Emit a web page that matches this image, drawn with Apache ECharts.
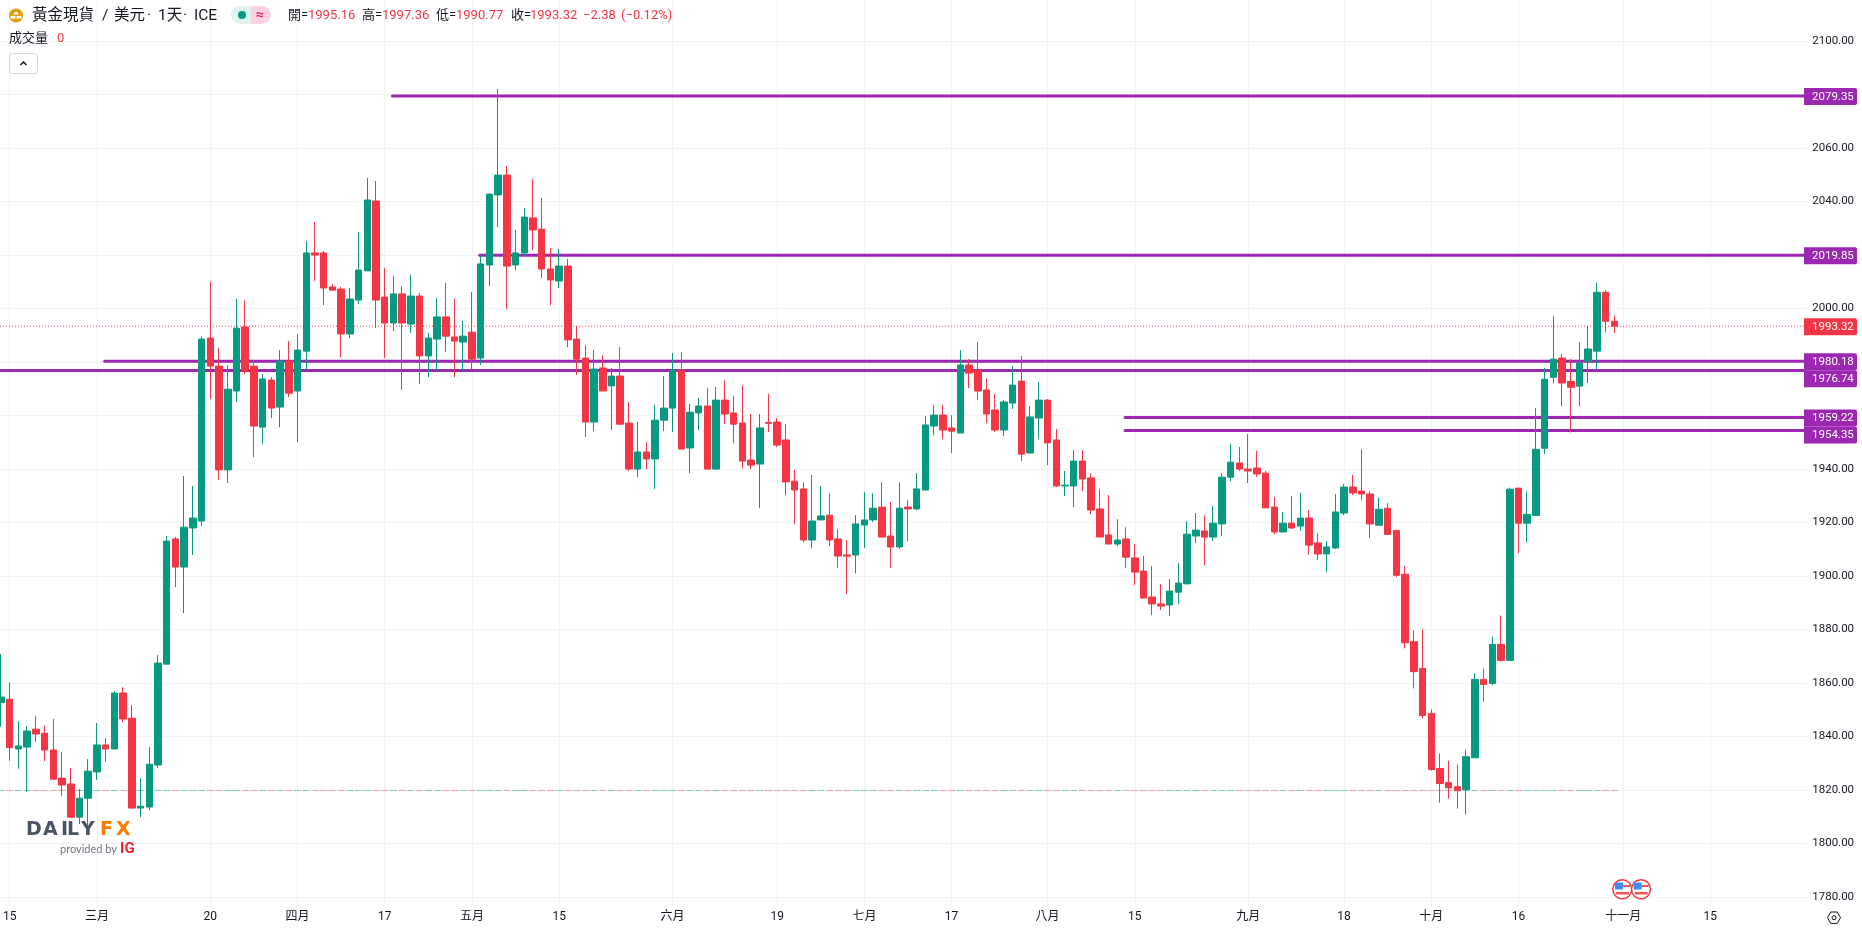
<!DOCTYPE html>
<html>
<head>
<meta charset="UTF-8">
<title>黃金現貨 / 美元</title>
<script src="https://cdn.jsdelivr.net/npm/echarts@6/dist/echarts.min.js"></script>
<style>
    html, body { margin: 0; padding: 0; background: #fff; overflow: hidden; }
    #main { width: 1862px; height: 929px; }
</style>
</head>
<body>
<div id="main"></div>
<script type="text/javascript">
// daily candles
var opens = [1852.6,1853.9,1835.3,1836.0,1842.7,1841.2,1834.9,1824.4,1822.2,1809.8,
    1816.9,1826.7,1836.8,1835.3,1856.2,1846.8,1813.2,1813.6,1829.3,1867.0,
    1913.8,1903.3,1917.9,1920.5,1988.9,1978.4,1939.6,1969.1,1993.0,1978.4,
    1955.6,1973.2,1963.1,1980.3,1969.1,1984.0,2020.7,2020.7,2008.0,2007.2,
    1990.4,2003.1,2014.0,2040.1,2004.2,1994.5,2005.4,1994.1,2004.6,1982.2,
    1988.5,1996.8,1989.3,1987.4,1991.1,1981.4,2016.2,2042.4,2049.8,2016.2,
    2020.7,2033.8,2029.6,2014.7,2010.2,2015.8,1988.5,1981.4,1957.5,1977.7,
    1971.0,1974.7,1957.1,1939.9,1946.3,1943.7,1958.2,1962.7,1976.9,1947.8,
    1960.9,1963.5,1939.9,1965.7,1960.9,1957.1,1943.3,1941.8,1957.4,1957.5,
    1950.8,1935.4,1932.5,1913.4,1920.9,1922.7,1913.8,1907.8,1907.8,1919.0,
    1920.9,1925.7,1914.9,1910.8,1925.7,1925.0,1932.1,1956.0,1960.1,1955.3,
    1953.4,1978.8,1976.9,1969.5,1962.0,1954.5,1964.6,1972.8,1945.9,1959.0,
    1965.7,1950.8,1933.6,1933.6,1942.9,1936.6,1925.0,1915.3,1911.9,1913.8,
    1906.7,1901.8,1892.1,1889.5,1889.1,1893.9,1897.0,1914.9,1916.8,1914.5,
    1919.4,1936.9,1942.2,1939.9,1940.3,1938.4,1925.7,1916.4,1919.7,1918.6,
    1921.6,1912.3,1908.2,1910.4,1923.5,1933.2,1931.7,1930.6,1918.9,1925.3,
    1917.0,1900.6,1875.4,1865.4,1848.6,1828.0,1822.7,1821.2,1820.1,1832.0,
    1861.3,1859.8,1874.4,1868.4,1932.8,1919.7,1922.6,1947.7,1974.2,1981.4,
    1972.7,1970.9,1980.1,1984.0,2006.0,1995.16];
var closes = [1854.7,1835.8,1836.4,1842.0,1840.9,1834.9,1824.0,1821.8,1809.8,1816.9,
    1827.0,1836.8,1835.3,1856.2,1846.5,1813.2,1813.9,1829.6,1867.4,1913.0,
    1903.3,1918.2,1921.6,1988.5,1978.4,1939.6,1969.8,1992.6,1976.6,1956.0,
    1973.6,1962.7,1980.3,1968.3,1984.4,2020.7,2019.9,2007.6,2006.8,1990.4,
    2003.5,2014.3,2040.5,2003.1,1994.5,2005.4,1994.5,2004.6,1982.2,1988.9,
    1996.8,1989.6,1987.8,1989.6,1981.0,2016.6,2042.7,2049.8,2015.8,2020.7,
    2034.1,2029.3,2014.7,2010.6,2015.8,1988.2,1981.0,1957.5,1977.3,1969.1,
    1974.7,1956.7,1939.9,1946.3,1943.7,1958.2,1962.7,1976.9,1947.4,1961.2,
    1963.5,1939.9,1965.7,1960.5,1956.7,1942.9,1941.4,1955.3,1957.0,1948.9,
    1935.1,1932.1,1913.4,1920.5,1922.4,1913.4,1907.4,1907.4,1919.4,1920.9,
    1925.3,1914.5,1910.8,1925.3,1925.0,1932.5,1956.4,1960.1,1954.5,1954.1,
    1978.8,1975.8,1969.1,1960.5,1954.5,1965.0,1971.3,1945.5,1959.4,1965.7,
    1949.7,1933.6,1933.9,1942.9,1936.2,1924.6,1914.5,1911.9,1913.4,1907.0,
    1901.4,1891.7,1889.5,1888.7,1894.3,1897.3,1915.6,1917.1,1914.5,1919.7,
    1936.9,1942.5,1939.9,1939.2,1938.1,1925.4,1916.4,1919.7,1917.9,1921.6,
    1911.5,1908.2,1910.8,1923.9,1933.2,1931.0,1930.6,1919.4,1924.9,1915.5,
    1900.2,1875.0,1864.2,1847.8,1827.6,1822.4,1820.8,1819.7,1832.4,1861.3,
    1859.4,1874.4,1868.4,1932.4,1919.7,1923.0,1947.3,1973.5,1981.0,1972.1,
    1970.5,1979.6,1984.8,2006.0,1995.2,1993.32];
var lows = [1843.6,1830.9,1827.9,1819.3,1837.9,1830.8,1824.0,1817.7,1809.5,1807.2,
    1805.0,1823.7,1830.4,1835.3,1845.3,1813.2,1809.8,1812.4,1828.1,1867.0,
    1895.8,1886.1,1907.8,1918.6,1966.1,1935.8,1934.7,1965.0,1975.4,1944.4,
    1949.3,1959.0,1955.6,1966.8,1950.0,1976.9,2010.2,2001.2,2006.8,1981.8,
    1988.9,2001.6,2014.0,1992.6,1981.4,1991.5,1969.5,1990.8,1971.7,1974.3,
    1976.6,1983.7,1974.3,1976.6,1977.3,1978.8,2008.3,2030.4,1999.7,2014.3,
    2019.6,2021.8,2011.3,2001.2,2007.6,1985.5,1975.1,1951.9,1954.1,1969.1,
    1954.5,1956.7,1939.2,1936.9,1939.9,1932.5,1954.1,1953.8,1947.4,1938.4,
    1954.5,1939.9,1939.9,1956.7,1949.6,1940.3,1939.9,1925.3,1953.8,1948.1,
    1930.2,1919.4,1912.6,1910.4,1920.9,1911.1,1902.9,1893.2,1901.0,1910.4,
    1920.1,1914.5,1902.9,1910.0,1913.0,1924.6,1932.1,1952.6,1951.1,1945.9,
    1953.4,1970.2,1965.7,1957.1,1953.8,1952.3,1962.4,1942.9,1945.9,1951.1,
    1941.4,1933.2,1929.8,1925.7,1931.7,1923.1,1914.5,1911.9,1911.1,1902.9,
    1896.6,1891.7,1885.3,1887.2,1885.0,1889.5,1897.0,1912.3,1904.0,1913.0,
    1914.9,1935.4,1939.2,1934.7,1936.9,1925.4,1915.6,1916.4,1917.5,1916.8,
    1907.8,1905.9,1901.4,1910.0,1922.7,1930.2,1928.3,1914.1,1918.9,1915.5,
    1899.5,1872.9,1857.9,1846.7,1827.2,1815.2,1816.8,1813.0,1810.8,1832.0,
    1853.0,1859.1,1868.0,1868.4,1908.5,1912.5,1922.6,1945.5,1972.0,1963.4,
    1953.6,1963.4,1972.1,1977.2,1991.0,1990.77];
var highs = [1870.8,1860.2,1845.7,1843.8,1847.6,1844.2,1846.5,1834.1,1828.2,1820.3,
    1831.5,1845.0,1839.4,1857.0,1858.4,1851.7,1824.4,1836.0,1870.4,1914.9,
    1914.5,1937.3,1933.6,1989.4,2010.0,1985.2,1978.8,2003.5,2003.1,1980.7,
    1975.4,1974.3,1984.4,1987.8,1990.4,2025.2,2032.3,2021.4,2009.1,2008.0,
    2007.6,2028.5,2048.7,2047.6,2015.1,2012.1,2008.3,2012.5,2005.7,1990.8,
    2003.9,2009.5,2003.5,1995.3,2006.1,2019.6,2042.9,2082.0,2053.2,2029.3,
    2037.5,2048.3,2041.2,2022.5,2022.2,2018.4,1993.4,1986.3,1984.4,1982.5,
    1977.7,1985.5,1965.0,1957.5,1950.0,1963.9,1974.7,1983.3,1983.7,1964.2,
    1966.5,1970.2,1970.6,1973.2,1967.2,1971.3,1960.5,1960.5,1968.0,1959.0,
    1956.8,1939.6,1935.0,1937.7,1933.6,1930.9,1917.5,1913.4,1922.7,1931.3,
    1930.9,1935.0,1927.6,1935.0,1928.3,1938.4,1959.7,1963.9,1963.9,1960.1,
    1984.4,1981.0,1987.4,1973.9,1968.0,1965.7,1978.4,1982.2,1963.5,1972.5,
    1966.1,1954.9,1939.2,1947.0,1947.0,1938.4,1932.5,1930.2,1921.2,1918.2,
    1911.9,1907.4,1903.7,1896.9,1898.8,1904.8,1920.5,1923.5,1922.7,1926.1,
    1938.4,1949.3,1948.2,1953.0,1946.7,1939.2,1929.5,1923.9,1929.8,1931.0,
    1924.6,1916.0,1913.0,1930.6,1934.3,1937.7,1947.4,1931.7,1929.3,1927.2,
    1917.0,1903.9,1879.6,1880.0,1850.0,1833.6,1830.9,1829.5,1835.1,1863.6,
    1865.4,1877.3,1885.2,1933.0,1932.8,1931.6,1962.7,1977.7,1997.1,1982.9,
    1981.0,1987.3,1993.3,2009.5,2006.8,1997.36];

// date axis: slot number of each labelled trading day, blank slots run on after the last candle
var slotCount = 208;
var tickSlots = [1,11,24,34,44,54,64,77,89,99,109,120,130,143,154,164,174,186,196];
var tickLabels = ['15','三月','20','四月','17','五月','15','六月','19','七月','17','八月','15','九月','18','十月','16','十一月','15'];

// price axis
var priceMin = 1776.6;
var priceMax = 2115.25;
var priceTicks = [1780,1800,1820,1840,1860,1880,1900,1920,1940,1960,1980,2000,2020,2040,2060,2080,2100];

// horizontal levels and the slot each one starts from
var levelValues = [2079.35,2019.85,1980.18,1976.74,1959.22,1954.35];
var levelStarts = [45,55,12,0,129,129];
var lastPrice = 1993.32;
// volume pane is empty (all 0), it only shows as a row of dashes on this price
var volumeBase = 1819.8;

var UP = '#089981';
var DOWN = '#f23645';
var PURPLE = '#9c27b0';
var GRID = '#f1f2f5';
var INK = '#131722';
var FONT = 'Roboto, "Noto Sans CJK TC", sans-serif';
var PLOT_RIGHT = 1804;
var TAG_RIGHT = 1857;
var TAG_H = 17;

var categories = [];
for (var s = 0; s < slotCount; s++) {
    var at = tickSlots.indexOf(s);
    categories.push(at >= 0 ? tickLabels[at] : '');
}
function isTick(index) {
    return tickSlots.indexOf(index) >= 0;
}

var candleData = [];
var dashData = [];
for (var i = 0; i < opens.length; i++) {
    candleData.push([opens[i], closes[i], lows[i], highs[i]]);
    dashData.push([i, volumeBase, closes[i] >= opens[i] ? 1 : 0]);
}

// line from a slot to the price scale, with its value tag
function tagItem(x, y, tagY, value, color, lineWidth, dash) {
    return {
        type: 'group',
        children: [
            {
                type: 'line',
                shape: { x1: x, y1: y, x2: PLOT_RIGHT, y2: y },
                style: { stroke: color, lineWidth: lineWidth, lineDash: dash, lineCap: dash ? 'butt' : 'round' }
            },
            {
                type: 'rect',
                shape: { x: PLOT_RIGHT, y: tagY - TAG_H / 2, width: TAG_RIGHT - PLOT_RIGHT, height: TAG_H, r: [0, 2, 2, 0] },
                style: { fill: color }
            },
            {
                type: 'text',
                style: {
                    x: PLOT_RIGHT + 8, y: tagY + 0.5, text: value.toFixed(2), fill: '#fff',
                    font: '11.5px ' + FONT, verticalAlign: 'middle'
                }
            }
        ]
    };
}

function headerText(x, y, text, fill, font) {
    return { type: 'text', z: 10, style: { x: x, y: y, text: text, fill: fill, font: font + ' ' + FONT, verticalAlign: 'middle' } };
}
function logoLetter(x, text, fill) {
    return { type: 'text', z: 10, style: { x: x, y: 830, text: text, fill: fill, font: 'bold 19px "DejaVu Sans"', verticalAlign: 'middle' } };
}

var lastTagY = 0;
var option = {
    animation: false,
    backgroundColor: '#fff',
    grid: { left: -0.43, top: 0, width: 1806.7, height: 906 },
    xAxis: {
        type: 'category',
        data: categories,
        boundaryGap: false,
        axisLine: { show: false },
        axisTick: { show: false },
        axisLabel: { interval: function (index) { return isTick(index); }, color: INK, fontFamily: FONT, fontSize: 12, margin: 5 },
        splitLine: { show: true, interval: function (index) { return isTick(index); }, lineStyle: { color: GRID, width: 1 } }
    },
    yAxis: {
        type: 'value',
        position: 'right',
        min: priceMin,
        max: priceMax,
        axisLine: { show: false },
        axisTick: { show: false, customValues: priceTicks },
        axisLabel: {
            customValues: priceTicks,
            color: INK, fontFamily: FONT, fontSize: 11.5, margin: 6,
            formatter: function (v) { return v.toFixed(2); }
        },
        splitLine: { show: true, lineStyle: { color: GRID, width: 1 } }
    },
    series: [
        {
            type: 'custom',
            name: 'volume',
            z: 1,
            data: dashData,
            encode: { x: 0, y: 1 },
            renderItem: function (params, api) {
                var p = api.coord([api.value(0), api.value(1)]);
                return {
                    type: 'rect',
                    shape: { x: p[0] - 3.5, y: p[1] - 0.5, width: 7, height: 1 },
                    style: { fill: api.value(2) ? 'rgba(8,153,129,0.5)' : 'rgba(242,54,69,0.45)' }
                };
            }
        },
        {
            type: 'custom',
            name: 'last',
            z: 2,
            clip: false,
            data: [[0, lastPrice]],
            encode: { x: 0, y: 1 },
            renderItem: function (params, api) {
                var p = api.coord([api.value(0), api.value(1)]);
                return tagItem(0, p[1], p[1] + 0.5, api.value(1), DOWN, 1, [1, 2]);
            }
        },
        {
            type: 'custom',
            name: 'levels',
            z: 2,
            clip: false,
            data: levelValues.map(function (v, k) { return [levelStarts[k], v]; }),
            encode: { x: 0, y: 1 },
            renderItem: function (params, api) {
                var p = api.coord([api.value(0), api.value(1)]);
                // tags that would collide get pushed down, like on the price scale
                if (params.dataIndex === 0) lastTagY = -100;
                var tagY = Math.max(p[1], lastTagY + TAG_H);
                lastTagY = tagY;
                return tagItem(Math.max(p[0] - 1, 0), p[1], tagY + 0.5, api.value(1), PURPLE, 3);
            }
        },
        {
            type: 'candlestick',
            z: 3,
            barWidth: 7,
            data: candleData,
            itemStyle: { color: UP, color0: DOWN, borderColor: UP, borderColor0: DOWN, borderWidth: 1 }
        }
    ],
    graphic: [
        // gold icon
        { type: 'circle', shape: { cx: 16, cy: 15.5, r: 7 }, style: { fill: '#e0a009' }, z: 10 },
        { type: 'polygon', shape: { points: [[13.5, 14.5], [18.5, 14.5], [17.5, 12], [14.5, 12]] }, style: { fill: '#fff' }, z: 11 },
        { type: 'rect', shape: { x: 10.5, y: 16, width: 5, height: 2.5 }, style: { fill: '#fff' }, z: 11 },
        { type: 'rect', shape: { x: 16.5, y: 16, width: 5, height: 2.5 }, style: { fill: '#fff' }, z: 11 },
        headerText(32, 16, '黃金現貨', INK, '15.5px'),
        headerText(102, 16, '/', INK, '15.5px'),
        headerText(114, 16, '美元', INK, '15.5px'),
        headerText(147, 16, '·', INK, '15.5px'),
        headerText(158, 16, '1天', INK, '15.5px'),
        headerText(183, 16, '·', INK, '15.5px'),
        headerText(194, 16, 'ICE', INK, '15.5px'),
        // status pill
        { type: 'rect', z: 10, shape: { x: 231, y: 6, width: 20, height: 18, r: [9, 0, 0, 9] }, style: { fill: '#e0f3f0' } },
        { type: 'rect', z: 10, shape: { x: 251, y: 6, width: 20, height: 18, r: [0, 9, 9, 0] }, style: { fill: '#fbd3e0' } },
        { type: 'circle', z: 11, shape: { cx: 242, cy: 15, r: 4 }, style: { fill: UP } },
        { type: 'text', z: 11, style: { x: 260, y: 15, text: '≈', fill: '#e91e63', font: 'bold 14px ' + FONT, align: 'center', verticalAlign: 'middle' } },
        // OHLC row
        headerText(288, 16, '開=', INK, '13px'),
        headerText(308, 16, '1995.16', DOWN, '13px'),
        headerText(362, 16, '高=', INK, '13px'),
        headerText(382, 16, '1997.36', DOWN, '13px'),
        headerText(436, 16, '低=', INK, '13px'),
        headerText(456, 16, '1990.77', DOWN, '13px'),
        headerText(511, 16, '收=', INK, '13px'),
        headerText(530, 16, '1993.32', DOWN, '13px'),
        headerText(583, 16, '−2.38', DOWN, '13px'),
        headerText(621, 16, '(−0.12%)', DOWN, '13px'),
        // volume legend
        headerText(9, 39, '成交量', INK, '13px'),
        headerText(57, 39, '0', DOWN, '13px'),
        // collapse button
        { type: 'rect', z: 10, shape: { x: 9.5, y: 53.5, width: 28, height: 20, r: 3 }, style: { fill: '#fff', stroke: '#d1d4dc', lineWidth: 1 } },
        { type: 'polyline', z: 11, shape: { points: [[20.5, 65], [23.5, 62], [26.5, 65]] }, style: { fill: 'none', stroke: INK, lineWidth: 1.5 } },
        // watermark
        logoLetter(26, 'D', '#4a5264'),
        logoLetter(43, 'A', '#4a5264'),
        logoLetter(61, 'I', '#4a5264'),
        logoLetter(67, 'L', '#4a5264'),
        logoLetter(81, 'Y', '#4a5264'),
        logoLetter(100, 'F', '#ff7b00'),
        logoLetter(116, 'X', '#ff7b00'),
        { type: 'text', z: 10, style: { x: 60, y: 849, text: 'provided by', fill: '#6e7480', font: '11px Lato', verticalAlign: 'middle' } },
        { type: 'text', z: 10, style: { x: 120, y: 849, text: 'IG', fill: '#e2222b', font: 'bold 15px Roboto', verticalAlign: 'middle' } },
        // event flags
        { type: 'circle', z: 10, shape: { cx: 1622.3, cy: 889.3, r: 9.5 }, style: { fill: '#fff', stroke: DOWN, lineWidth: 1.5 } },
        { type: 'rect', z: 11, shape: { x: 1615, y: 882.5, width: 8, height: 7 }, style: { fill: '#3d8ef0' } },
        { type: 'rect', z: 11, shape: { x: 1623, y: 885, width: 7, height: 2 }, style: { fill: '#f0555f' } },
        { type: 'rect', z: 11, shape: { x: 1616, y: 892, width: 13, height: 2.5 }, style: { fill: '#f0555f' } },
        { type: 'circle', z: 12, shape: { cx: 1641, cy: 889.3, r: 9.5 }, style: { fill: '#fff', stroke: DOWN, lineWidth: 1.5 } },
        { type: 'rect', z: 13, shape: { x: 1633.7, y: 882.5, width: 8, height: 7 }, style: { fill: '#3d8ef0' } },
        { type: 'rect', z: 13, shape: { x: 1641.7, y: 885, width: 7, height: 2 }, style: { fill: '#f0555f' } },
        { type: 'rect', z: 13, shape: { x: 1634.7, y: 892, width: 13, height: 2.5 }, style: { fill: '#f0555f' } },
        // settings cog
        { type: 'polygon', z: 10, shape: { points: [[1827.5, 917.7], [1830.7, 912], [1837.3, 912], [1840.5, 917.7], [1837.3, 923.4], [1830.7, 923.4]] }, style: { fill: 'none', stroke: INK, lineWidth: 1 } },
        { type: 'circle', z: 10, shape: { cx: 1834, cy: 917.7, r: 2 }, style: { fill: 'none', stroke: INK, lineWidth: 1 } }
    ]
};

var myChart = echarts.init(document.getElementById('main'));
myChart.setOption(option);
</script>
</body>
</html>
